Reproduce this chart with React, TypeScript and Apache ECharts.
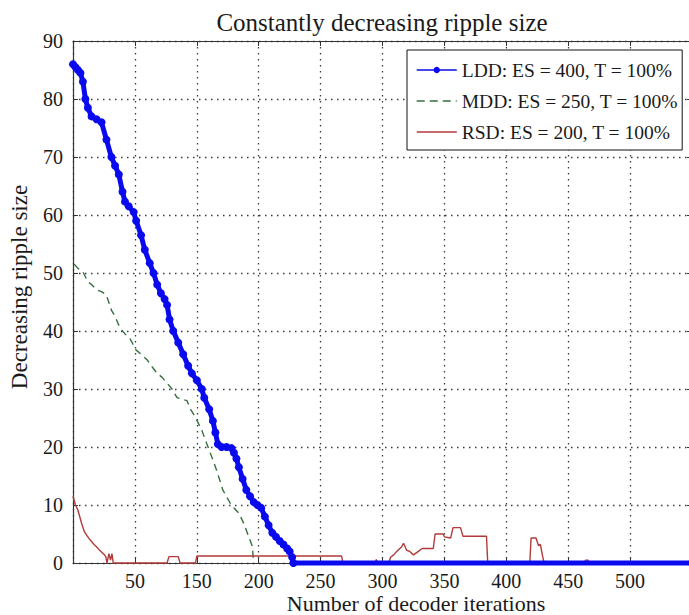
import React, { useEffect, useRef } from 'react';
import * as echarts from 'echarts';

// ---------- data ----------
const titleText = 'Constantly decreasing ripple size';
const xAxisName = 'Number of decoder iterations';
const yAxisName = 'Decreasing ripple size';

const xTickValues = [50, 100, 150, 200, 250, 300, 350, 400, 450, 500, 550];
const xTickLabels = ['', '50', '150', '200', '250', '300', '350', '400', '450', '500', ''];
const yTickValues = [0, 10, 20, 30, 40, 50, 60, 70, 80, 90];

const seriesNames = [
  'LDD: ES = 400, T = 100%',
  'MDD: ES = 250, T = 100%',
  'RSD: ES = 200, T = 100%',
];

const lddX = [50, 52, 54, 56, 58, 60, 62, 65, 69, 73, 77, 81, 84, 87, 90, 92, 95, 99, 101, 105, 108, 112, 115, 118, 121, 124, 126, 128, 131, 135, 139, 143, 146, 150, 154, 156, 160, 163, 165, 167, 170, 174, 178, 180, 182, 184, 187, 190, 193, 196, 199, 202, 205, 208, 211, 214, 217, 220, 223, 225, 227, 228, 550];
const lddY = [86, 85.5, 85, 84.5, 83, 80, 78.5, 77, 76.5, 76, 73, 70, 68.5, 67, 64, 62.3, 61.5, 60.5, 59, 56.5, 54, 51.7, 50, 48, 46.5, 45.5, 44.5, 42, 40, 38, 36, 34, 32.7, 31.5, 30, 28.5, 26.5, 24.5, 22.5, 20.5, 20, 20, 19.8, 19, 18, 16.5, 14.5, 12.6, 11.5, 10.5, 10, 9.5, 8, 6.5, 5.2, 4.5, 3.8, 3.2, 2.5, 2, 1, 0, 0];

const mddX = [51, 54, 58, 62, 65, 69, 73, 77, 81, 84, 88, 92, 96, 101, 105, 110, 114, 118, 122, 126, 130, 134, 142, 145, 147, 151, 154, 158, 161, 166, 171, 177, 180, 184, 188, 192, 195, 195.7];
const mddY = [51.5, 50.8, 50.2, 48.5, 48, 47.1, 46.8, 46.2, 43.6, 42.5, 40.5, 39.5, 38.7, 36.7, 36, 35, 33.8, 32.7, 32, 31, 30, 28.5, 28, 26.5, 25.8, 24.2, 22.9, 20.6, 18.9, 16, 12.6, 10.3, 9.5, 8.6, 6.8, 4.5, 2.8, 0];

const rsdX = [50, 52, 54, 57, 59, 61, 63, 65, 67, 69, 71, 73, 75, 76.5, 77.5, 79, 80.3, 81.5, 82.5, 126, 127.5, 135, 136.5, 149, 150, 267, 268, 294, 295, 296, 305, 306.5, 309, 311.5, 315.5, 317, 319.5, 322, 325, 329, 332, 341, 342.5, 349, 350, 355, 357, 363, 365, 384, 385, 419, 420, 424, 426, 427.5, 429.5, 430.5, 463, 464, 466, 467, 550];
const rsdY = [11.5, 10, 9.1, 6.8, 5.5, 4.8, 4.2, 3.7, 3.2, 2.8, 2.3, 1.9, 1.5, 1.1, 0, 1.6, 0.5, 1.6, 0, 0, 1.1, 1.1, 0, 0, 1.2, 1.2, 0, 0, 0.6, 0, 0, 1, 1.4, 2, 2.8, 3.4, 2.2, 2, 1.4, 2, 2.5, 2.5, 5, 5, 4.5, 4.3, 6.1, 6.1, 4.6, 4.6, 0, 0, 4.3, 4.3, 3, 3.2, 1, 0, 0, 0.5, 0.5, 0, 0];

const zip = (xs: number[], ys: number[]) => xs.map((x, i) => [x, ys[i]]);

const FONT = '"Liberation Serif", "Times New Roman", serif';
const TEXT = '#1a1a1a';
const FRAME = '#333333';
const BLUE = '#0a0aee';
const GREEN = '#35703d';
const RED = '#b23a3a';

export default function App() {
  const ref = useRef<HTMLDivElement>(null);

  useEffect(() => {
    if (!ref.current) return;
    const chart = echarts.init(ref.current, null, { renderer: 'svg' });

    const xLabel = (v: number) => {
      const i = xTickValues.indexOf(v);
      return i >= 0 ? xTickLabels[i] : '';
    };

    const dotted = { type: [1.5, 4.5] as any, color: '#3a3a3a', width: 1.3 };
    const hiddenSymbol = { color: 'rgba(0,0,0,0)', borderWidth: 0, opacity: 0 };

    chart.setOption({
      animation: false,
      backgroundColor: '#ffffff',
      textStyle: { fontFamily: FONT },
      graphic: [
        {
          type: 'text',
          x: 382,
          y: 22,
          style: {
            text: titleText,
            font: '25px ' + FONT,
            fill: TEXT,
            align: 'center',
            verticalAlign: 'middle',
          },
        },
        {
          type: 'text',
          x: 416,
          y: 603,
          style: {
            text: xAxisName,
            font: '22px ' + FONT,
            fill: TEXT,
            align: 'center',
            verticalAlign: 'middle',
          },
        },
        {
          type: 'text',
          x: 19,
          y: 287,
          rotation: Math.PI / 2,
          style: {
            text: yAxisName,
            font: '23px ' + FONT,
            fill: TEXT,
            align: 'center',
            verticalAlign: 'middle',
          },
        },
      ],
      legend: {
        orient: 'vertical',
        left: 407,
        top: 50,
        padding: [10, 4, 8, 9],
        itemGap: 11,
        itemWidth: 40,
        itemHeight: 8,
        backgroundColor: '#ffffff',
        borderColor: '#111',
        borderWidth: 1,
        borderRadius: 0,
        textStyle: { fontFamily: FONT, fontSize: 19.5, color: TEXT, lineHeight: 20 },
        data: [
          { name: seriesNames[0], lineStyle: { width: 1.5 } },
          { name: seriesNames[1], itemStyle: hiddenSymbol, lineStyle: { width: 1.5, type: [8, 5] } },
          { name: seriesNames[2], itemStyle: hiddenSymbol, lineStyle: { width: 1.5 } },
        ],
      },
      grid: { left: 73, right: 8, top: 41, bottom: 52, containLabel: false, outerBoundsMode: 'none' },
      xAxis: [
        {
          type: 'value',
          min: 50,
          max: 550,
          interval: 50,
          axisLine: { show: true, onZero: false, lineStyle: { color: FRAME, width: 1.2 } },
          axisTick: { show: true, inside: true, length: 5, lineStyle: { color: FRAME } },
          axisLabel: { fontFamily: FONT, fontSize: 20, color: TEXT, margin: 8, formatter: xLabel, showMinLabel: true, showMaxLabel: true },
          splitLine: { show: true, lineStyle: dotted },
        },
        {
          type: 'value',
          position: 'top',
          min: 50,
          max: 550,
          interval: 50,
          axisLine: { show: true, onZero: false, lineStyle: { color: FRAME, width: 1.2 } },
          axisTick: { show: true, inside: true, length: 5, lineStyle: { color: FRAME } },
          axisLabel: { show: false },
          splitLine: { show: false },
        },
      ],
      yAxis: [
        {
          type: 'value',
          min: 0,
          max: 90,
          interval: 10,
          axisLine: { show: true, onZero: false, lineStyle: { color: FRAME, width: 1.2 } },
          axisTick: { show: true, inside: true, length: 5, lineStyle: { color: FRAME } },
          axisLabel: {
            fontFamily: FONT, fontSize: 20, color: TEXT, margin: 10,
            formatter: (v: number) => (yTickValues.indexOf(v) >= 0 ? String(v) : ''),
          },
          splitLine: { show: true, lineStyle: dotted },
        },
        {
          type: 'value',
          position: 'right',
          min: 0,
          max: 90,
          interval: 10,
          axisLine: { show: true, onZero: false, lineStyle: { color: FRAME, width: 1.2 } },
          axisTick: { show: true, inside: true, length: 5, lineStyle: { color: FRAME } },
          axisLabel: { show: false },
          splitLine: { show: false },
        },
      ],
      series: [
        {
          name: seriesNames[0],
          type: 'line',
          data: zip(lddX, lddY),
          clip: false,
          z: 4,
          symbol: 'circle',
          symbolSize: 8,
          showSymbol: true,
          showAllSymbol: true,
          color: BLUE,
          itemStyle: { color: BLUE },
          lineStyle: { color: BLUE, width: 5 },
        },
        {
          name: seriesNames[1],
          type: 'line',
          data: zip(mddX, mddY),
          clip: false,
          z: 3,
          symbol: 'none',
          color: GREEN,
          lineStyle: { color: GREEN, width: 1.4, type: [7, 5] },
        },
        {
          name: seriesNames[2],
          type: 'line',
          data: zip(rsdX, rsdY),
          clip: false,
          z: 3,
          symbol: 'none',
          color: RED,
          lineStyle: { color: RED, width: 1.4 },
        },
      ],
    });

    return () => chart.dispose();
  }, []);

  return (
    <div style={{ position: 'fixed', left: 0, top: 0, width: 689, height: 615, overflow: 'hidden', background: '#fff' }}>
      <div ref={ref} style={{ width: 700, height: 615 }} />
    </div>
  );
}
